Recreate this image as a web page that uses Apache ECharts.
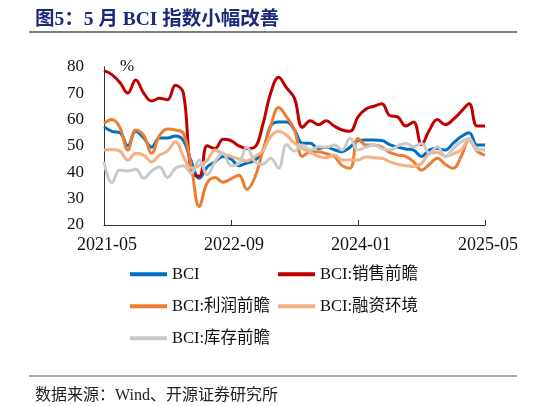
<!DOCTYPE html>
<html>
<head>
<meta charset="utf-8">
<script src="https://cdn.jsdelivr.net/npm/echarts@6/dist/echarts.min.js"></script>
<style>
  html, body { margin: 0; padding: 0; background: #fff; }
  #main { width: 547px; height: 406px; }
</style>
</head>
<body>
<div id="main"></div>
<script>
// 月份
const months = [
  '2021-05','2021-06','2021-07','2021-08','2021-09','2021-10','2021-11','2021-12',
  '2022-01','2022-02','2022-03','2022-04','2022-05','2022-06','2022-07','2022-08',
  '2022-09','2022-10','2022-11','2022-12','2023-01','2023-02','2023-03','2023-04',
  '2023-05','2023-06','2023-07','2023-08','2023-09','2023-10','2023-11','2023-12',
  '2024-01','2024-02','2024-03','2024-04','2024-05','2024-06','2024-07','2024-08',
  '2024-09','2024-10','2024-11','2024-12','2025-01','2025-02','2025-03','2025-04',
  '2025-05'
];

const bci = [57.2,55.5,55,50,55.5,53,49.5,53,53,53.7,52,44,37.7,42,44,46,
  45,42.5,43.5,44.5,48,57.5,59,59,56,51,51,49,49.5,48.5,47.8,49.5,
  52,52.2,52.2,52,50.5,49.5,48.8,48.4,46,48.5,49,48.4,51,53.5,55,50.3,50.3];

const sales = [78.5,77,74,70,75,70,67,68,67.5,73,70,40,38.5,50,49,52.5,
  52,50,49,49.5,58,70,76,72,68,57,59.5,58,59.5,57.5,56,55.5,
  61,64,65,66,61.5,61,57.5,59,50.5,56,60,58,60,63,66,57.5,57.5];

const profit = [58.5,60,57,48.4,56,54,47.2,54,56.4,56,54.7,42,27,36,38,36.2,
  37.5,38.9,33.5,38,48,57.5,64.5,61,56,46,47.8,47.8,47,46,42.5,41.5,
  52.8,50.3,50.3,49.5,47.5,46.5,46,44,40.8,43,45.3,43,41.5,46,52.2,48,46.5];

const finance = [48.4,48.6,48,44.6,47.2,46.5,44,46.5,48,51.6,46,41.5,42.5,44.5,48.4,47,
  46,45,44.3,45.9,48,53.5,55.5,54,51,49,47.5,46,45.5,46.5,44.6,44.6,
  44.6,45.9,45.5,45.3,44,43,42.5,42.1,43.4,47,47.5,46,47,48.5,52.2,49,48.4];

const inventory = [44,36,40.8,40.5,41.1,37.7,40.5,42,38,41.5,42.5,39.6,44.6,39,44,47.2,
  42.5,43.4,49.5,44,43,45.3,41.5,50.5,48,50.3,48.4,49.7,49.5,50.3,48.4,53,
  48.4,49.5,50.3,49,48.4,50,51,49.7,51,47.2,49.7,46,49,51.5,52.8,48.4,48.6];

const seriesNames = ['BCI', 'BCI:销售前瞻', 'BCI:利润前瞻', 'BCI:融资环境', 'BCI:库存前瞻'];
const seriesData = [bci, sales, profit, finance, inventory];
const colors = ['#0070C0', '#C00000', '#ED7D31', '#F4B183', '#C9C9C9'];

const serif = "'Liberation Serif', 'Noto Sans CJK SC', serif";

const chart = echarts.init(document.getElementById('main'));

// 图例两列排布
const legendPos = [[130, 266], [278, 266], [130, 298], [278, 298], [130, 330]];

const option = {
  backgroundColor: '#fff',
  animation: false,
  title: [{
    text: '图5：5 月 BCI 指数小幅改善',
    left: 30, top: 5,
    textStyle: { fontFamily: serif, fontSize: 19.5, fontWeight: 'bold', color: '#1B2A7A' }
  }, {
    text: '数据来源：Wind、开源证券研究所',
    left: 30, top: 383,
    textStyle: { fontFamily: serif, fontSize: 16, fontWeight: 'normal', color: '#222' }
  }],
  graphic: [
    { type: 'line', shape: { x1: 29, y1: 32, x2: 517, y2: 32 }, style: { stroke: '#555', lineWidth: 1.5 } },
    { type: 'line', shape: { x1: 29, y1: 376, x2: 517, y2: 376 }, style: { stroke: '#555', lineWidth: 1.2 } }
  ],
  legend: seriesNames.map((n, i) => ({
    data: [n],
    left: legendPos[i][0], top: legendPos[i][1],
    padding: 0,
    icon: 'rect',
    itemWidth: 37, itemHeight: 4,
    textStyle: { fontFamily: serif, fontSize: 16.5, color: '#111' }
  })),
  grid: { left: 104, right: 62, top: 66.7, bottom: 181 },
  xAxis: {
    type: 'category',
    data: months,
    boundaryGap: false,
    axisLine: { lineStyle: { color: '#333', width: 1 } },
    axisTick: { show: true, inside: true, length: 5, interval: 15, lineStyle: { color: '#333' } },
    axisLabel: { interval: 15, fontFamily: serif, fontSize: 18, color: '#111', margin: 11, padding: [0, 0, 0, 6] }
  },
  yAxis: {
    type: 'value',
    min: 20, max: 80, interval: 10,
    name: '%',
    nameLocation: 'end',
    nameGap: 0,
    nameTextStyle: { fontFamily: serif, fontSize: 17, color: '#111', align: 'left', verticalAlign: 'middle', padding: [0, 0, 0, 16] },
    splitLine: { show: false },
    axisLine: { show: true, lineStyle: { color: '#333', width: 1 } },
    axisTick: { show: false },
    axisLabel: { fontFamily: serif, fontSize: 17, color: '#111', margin: 20 }
  },
  series: seriesNames.map((n, i) => ({
    name: n,
    type: 'line',
    data: seriesData[i],
    smooth: 0.4,
    symbol: 'none',
    color: colors[i],
    lineStyle: { width: 3, color: colors[i] }
  }))
};

chart.setOption(option);
</script>
</body>
</html>
